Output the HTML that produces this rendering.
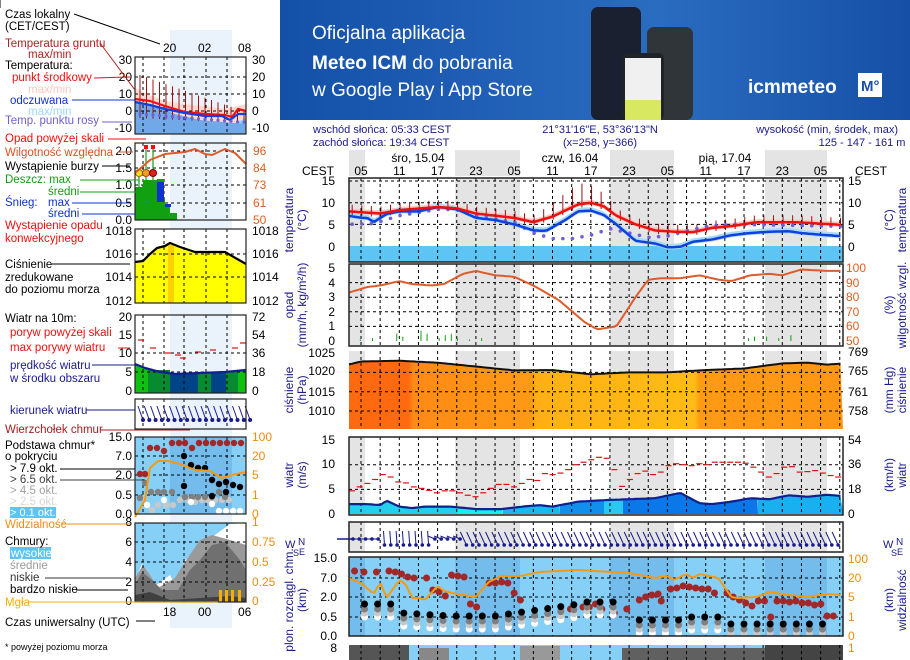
<!DOCTYPE html>
<html><head><meta charset="utf-8"><style>
html,body{margin:0;padding:0;background:#fff;}
svg{display:block;font-family:"Liberation Sans",sans-serif;}
</style></head><body>
<svg id="s" width="910" height="660" viewBox="0 0 910 660" xmlns="http://www.w3.org/2000/svg">
<defs>
<linearGradient id="bn" x1="0" y1="0" x2="1" y2="0"><stop offset="0" stop-color="#1450a8"/><stop offset="0.6" stop-color="#2a6cc0"/><stop offset="1" stop-color="#1650a6"/></linearGradient>
<linearGradient id="pg" x1="0" y1="0" x2="1" y2="0">
<stop offset="0" stop-color="#ff6a10"/><stop offset="0.12" stop-color="#ff6a10"/><stop offset="0.13" stop-color="#ff8a14"/><stop offset="0.37" stop-color="#ff9a14"/><stop offset="0.38" stop-color="#ffb014"/><stop offset="0.7" stop-color="#ffbc14"/><stop offset="0.71" stop-color="#ff9a14"/><stop offset="1" stop-color="#ff9614"/></linearGradient>
</defs>
<rect x="280" y="0" width="630" height="120" fill="url(#bn)"/>
<text x="312" y="39" font-size="19" fill="#fff">Oficjalna aplikacja</text>
<text x="312" y="69" font-size="19" fill="#fff"><tspan font-weight="bold">Meteo ICM</tspan> do pobrania</text>
<text x="312" y="96" font-size="19" fill="#fff">w Google Play i App Store</text>
<rect x="591" y="7" width="50" height="113" rx="7" fill="#1a2030"/>
<rect x="647" y="27" width="46" height="93" rx="7" fill="#30353a"/>
<rect x="622" y="53" width="42" height="67" rx="6" fill="#202428"/>
<rect x="625" y="58" width="36" height="62" fill="#f0f0f0"/>
<rect x="625" y="100" width="36" height="20" fill="#d8e860"/>
<text x="748" y="93" font-size="19" font-weight="bold" fill="#fff">icmmeteo</text>
<rect x="858" y="73" width="24" height="24" fill="#fff"/>
<text x="861" y="91" font-size="15" font-weight="bold" fill="#1a50a8">M°</text>
<g id="g"></g>
</svg>
<script>
(function(){
var S=document.getElementById('g'),NS='http://www.w3.org/2000/svg';
function el(t,a,txt){var e=document.createElementNS(NS,t);for(var k in a)e.setAttribute(k,a[k]);if(txt!=null)e.textContent=txt;S.appendChild(e);return e;}
function T(x,y,s,c,o){o=o||{};var a={x:x,y:y,'font-size':o.fs||11,fill:c||'#000'};if(o.a)a['text-anchor']=o.a;if(o.tr)a.transform=o.tr;return el('text',a,s);}
function L(x1,y1,x2,y2,c,w,d){var a={x1:x1,y1:y1,x2:x2,y2:y2,stroke:c,'stroke-width':w||1};if(d)a['stroke-dasharray']=d;return el('line',a);}
function R(x,y,w,h,c,o){var a={x:x,y:y,width:w,height:h,fill:c};if(o){a.stroke=o;}return el('rect',a);}
function PL(pts,c,w,fill){return el('polyline',{points:pts.map(function(p){return p[0].toFixed(1)+','+p[1].toFixed(1)}).join(' '),stroke:c,'stroke-width':w||1,fill:fill||'none','stroke-linejoin':'round'});}
function itp(d,h){for(var i=0;i<d.length-1;i++){if(h<=d[i+1][0]){var t=(h-d[i][0])/(d[i+1][0]-d[i][0]);return d[i][1]+t*(d[i+1][1]-d[i][1]);}}return d[d.length-1][1];}
var X0=349,X1=843;function X(h){return 361+h*6.383;}var HMIN=(X0-361)/6.383,HMAX=(X1-361)/6.383;
function series(d,yf,step){var p=[];for(var h=HMIN;h<=HMAX+0.01;h+=step||0.5)p.push([X(h),yf(itp(d,h))]);return p;}
var NAVY='#1a1a8c';
var nights=[[349,365],[455,520],[610,674],[765,827]];
function panel(y0,y1,bg,nightc){R(X0,y0,X1-X0,y1-y0,bg);nights.forEach(function(n){R(n[0],y0,n[1]-n[0],y1-y0,nightc);});}
function vgrid(y0,y1){for(var k=-1;k<26;k++){var x=361+k*19.15;if(x>X0&&x<X1)L(x,y0,x,y1,'#000',1,'3,3');}}
function frame(y0,y1){el('rect',{x:X0,y:y0,width:X1-X0,height:y1-y0,fill:'none',stroke:'#222','stroke-width':1.5});}
T(313,133,'wschód słońca: 05:33 CEST',NAVY);T(313,146,'zachód słońca: 19:34 CEST',NAVY);
T(600,133,'21°31\'16"E, 53°36\'13"N',NAVY,{a:'middle'});T(600,146,'(x=258,  y=366)',NAVY,{a:'middle'});
T(898,133,'wysokość (min, środek, max)',NAVY,{a:'end'});T(862,146,'125 - 147 - 161 m',NAVY,{a:'middle'});
nights.forEach(function(n){R(n[0],150,n[1]-n[0],26,'#e4e4e4');});
T(418,162,'śro, 15.04','#000',{a:'middle',fs:12});T(570,162,'czw, 16.04','#000',{a:'middle',fs:12});T(725,162,'pią, 17.04','#000',{a:'middle',fs:12});
['05','11','17','23','05','11','17','23','05','11','17','23','05'].forEach(function(s,i){T(X(i*6),175,s,'#000',{a:'middle',fs:12});});
T(302,175,'CEST','#000',{fs:12});T(855,175,'CEST','#000',{fs:12});
var ty=function(t){return 246-4.33*t;};
panel(178,262,'#fff','#e4e4e4');R(X0,246,X1-X0,16,'#5ec4f4');
var red=[[-2,8],[0,7.8],[3,7.5],[6,8.3],[12,9],[15,8.7],[18,7.5],[24,6.5],[27,5.5],[30,6.8],[34,9.6],[36,10],[38,9.2],[40,7],[43,5],[46,3.6],[49,3.3],[52,3.2],[55,4.2],[58,4.6],[62,5.5],[68,5.5],[74,5],[78,4.7]];
var blu=[[-2,7],[0,6.5],[1,6.5],[2,5.5],[4,7.4],[6,8],[9,8],[12,9],[15,8.5],[18,6.5],[21,6],[24,5],[27,3.6],[29,3.5],[32,6],[34,8],[36,8.2],[38,7.2],[40,5],[43,1.2],[46,0.6],[48,-0.3],[50,-0.2],[52,1],[55,1.5],[58,2.5],[61,3],[64,3.3],[67,3.4],[69,3],[72,2.6],[75,2.3],[78,2.5]];
var dew=[[-2,5],[2,5.2],[6,7],[12,8.5],[15,8.4],[18,7],[24,5.5],[27,3],[30,1.7],[33,1.7],[36,2.5],[39,4],[42,3],[45,2],[48,2.3],[51,3.5],[54,4.5],[58,5],[78,4.5]];
var pb=series(red,function(v){return ty(v+0.7)}),pb2=series(red,function(v){return ty(v-0.5)}).reverse();PL(pb.concat(pb2),'none',0,'#ffc8c0');
var bb=series(blu,function(v){return ty(v+0.8)}),bb2=series(blu,function(v){return ty(v-0.5)}).reverse();PL(bb.concat(bb2),'none',0,'#a8dcf8');
for(var h=HMIN+0.5;h<HMAX;h+=1.5){var v=itp(red,h);var tp=v+1+((h>26&&h<40)?Math.max(0,4-Math.abs(h-34)*0.5):0.6);L(X(h),ty(tp),X(h),ty(v-0.8),'#a01010',1);}
vgrid(178,262);[5,10,15].forEach(function(v){L(X0,ty(v),X1,ty(v),'#000',1,'3,3');});
for(var h=HMIN+0.5;h<HMAX;h+=1.5){el('circle',{cx:X(h),cy:ty(itp(dew,h)),r:1.8,fill:'#7060d8'});}
PL(series(blu,ty),'#1040e0',2.5);PL(series(red,ty),'#ee1010',2.5);frame(178,262);
[[15,181],[10,203],[5,225],[0,247]].forEach(function(a){T(335,a[1]+4,a[0],'#000',{a:'end',fs:12});T(848,a[1]+4,a[0],'#000',{fs:12});});
var py=function(v){return 341-14.6*v;};
panel(264,346,'#fff','#e4e4e4');vgrid(264,346);[1,2,3,4].forEach(function(v){L(X0,py(v),X1,py(v),'#000',1,'3,3');});
[[2,0.1],[4,0.2],[8,0.5],[9,0.3],[12,0.7],[13,0.5],[15,0.2],[16,0.4],[17,0.5],[18,0.2],[20,0.1],[22,0.2],[66,0.2],[67,0.3],[69,0.3],[71,0.2],[73,0.4]].forEach(function(b){var x=X(b[0]*0.95-2);L(x,py(b[1]),x,341,'#10a010',1);});
var rh=[[-2,83],[1,87],[3,88],[6,91],[8,89],[11,88],[13,89],[16,96],[18,98],[21,95],[24,94],[27,88],[31,78],[35,63],[37,58],[40,60],[43,80],[45,92],[47,93],[50,93],[53,95],[56,92],[58,91],[61,95],[64,96],[66,95],[69,99],[73,98],[77,98],[79,96]];
PL(series(rh,function(v){return 341-(v-50)*1.46}),'#e05a2a',2);frame(264,346);
[[5,268],[4,283],[3,297],[2,312],[1,326],[0,341]].forEach(function(a){T(335,a[1]+4,a[0],'#000',{a:'end',fs:12});});
[[100,268],[90,283],[80,297],[70,312],[60,326],[50,341]].forEach(function(a){T(846,a[1]+4,a[0],'#e06020',{fs:12});});
var pry=function(v){return 353+(1025-v)*3.87;};
R(X0,351,X1-X0,78,'#fff');nights.forEach(function(n){R(n[0],351,n[1]-n[0],78,'#e4e4e4');});
var pr=[[-2,1022],[0,1022.8],[6,1023],[12,1022.5],[18,1021.5],[24,1020.5],[30,1020.6],[36,1019.5],[42,1020],[48,1020],[54,1020.6],[60,1021],[66,1022.3],[70,1022.5],[73,1022],[78,1022.6]];
var pp=series(pr,pry);PL(pp.concat([[X1,429],[X0,429]]),'none',0,'url(#pg)');
vgrid(351,429);[1020,1015,1010].forEach(function(v){L(X0,pry(v),X1,pry(v),'#000',1,'3,3');});
PL(pp,'#111',2);
[[1025,353],[1020,371],[1015,392],[1010,411]].forEach(function(a){T(335,a[1]+4,a[0],'#000',{a:'end',fs:12});});
[[769,352],[765,371],[761,392],[758,411]].forEach(function(a){T(848,a[1]+4,a[0],'#000',{fs:12});});
var wy=function(v){return 514-4.93*v;};
panel(437,515,'#fff','#e4e4e4');
var ws=[[-2,2],[1,2],[3,1.8],[4,2.7],[6,1.5],[8,1.2],[10,1.5],[14,1.5],[18,1],[22,1],[26,1.6],[28,1.8],[30,1.5],[34,2.5],[38,2.8],[42,3],[46,3.2],[49,4],[50,4.3],[53,2.2],[55,2],[58,2.5],[61,3.2],[64,3],[67,3.8],[70,3.5],[73,3.9],[76,3.6],[79,3.5]];
var wsp=series(ws,wy);
var bx=[[349,457,'#22d0ee'],[457,503,'#10f0f0'],[503,560,'#18b8f0'],[560,604,'#1090ec'],[604,623,'#28c8f0'],[623,758,'#0a78e8'],[758,843,'#18b0f0']];
bx.forEach(function(b){var q=wsp.filter(function(p){return p[0]>=b[0]-1&&p[0]<=b[1]+1});if(!q.length)return;var pts=q.concat([[b[1],514],[b[0],514]]);pts[0]=[b[0],pts[0][1]];PL(pts,'none',0,b[2]);});
vgrid(437,515);[5,10].forEach(function(v){L(X0,wy(v),X1,wy(v),'#000',1,'3,3');});
PL(wsp,'#10208c',2.2);
var gust=[4.7,5.5,6.2,7,8,7.5,6.5,6.3,5.5,5.2,4.8,4.3,4.7,4.7,4.3,3.8,3.5,4.3,5.2,6,6,5.5,6.2,7,6.8,8.2,8,8.3,9,10,10.5,11,11.5,11.3,9,5.6,7,8.2,8.7,8,8.5,9.8,10.2,10,9.8,10.2,10,10.5,10.5,10.5,10.5,10.3,9.5,8.5,7.5,8.2,9.5,9.6,8.5,8.6,8.8,8.3,7.8,7.5];
gust.forEach(function(g,i){var x=X0+i*(X1-X0)/gust.length;L(x,wy(g),x+6,wy(g),'#e01010',1.2);});
frame(437,515);
[[15,440],[10,464],[5,489],[0,514]].forEach(function(a){T(335,a[1]+4,a[0],'#000',{a:'end',fs:12});});
[[54,440],[36,464],[18,489],[0,514]].forEach(function(a){T(848,a[1]+4,a[0],'#000',{fs:12});});
R(X0,522,X1-X0,30,'#fff');nights.forEach(function(n){R(n[0],522,n[1]-n[0],30,'#e4e4e4');});vgrid(522,552);
for(var i=0;i<78;i++){var x=X0+i*6.3;var h=(x-361)/6.383;var dx,dy,oy;if(h<3){dx=-8;dy=0;oy=0;}else if(h<10){dx=-1;dy=-14;oy=6;}else if(h<15){dx=-7;dy=-3;oy=0;}else{dx=-6;dy=-13;oy=6;}var b0=x+4,b1=539+oy;L(b0,b1,b0+dx,b1+dy,NAVY,1);el('circle',{cx:b0,cy:b1,r:1.8,fill:NAVY});}
L(X0-12,539,X0+5,539,NAVY,1.5);
frame(522,552);
panel(557,636,'#86d0f8','#74bcec');vgrid(557,636);[578,597,617].forEach(function(y){L(X0,y,X1,y,'#000',1,'3,3');});
function dots(arr,col,r){arr.forEach(function(p){var x=X(p[0]);if(x<X0+3||x>X1-3)return;el('circle',{cx:x,cy:p[1],r:r||3.5,fill:col});});}
var tr=[[-1,571],[0.5,571],[2,572],[4,572],[6,571],[7,572],[8,574],[9,577],[10,578],[12,578],[13,590],[14,592],[15,596],[16,575],[17,576],[18,577],[19,604],[20,607],[22,583],[23,583],[24,582],[25,583],[26,593],[27,600],[35,609],[37,607],[38,607],[39,604],[40,609],[42,613],[44,609],[46,600],[47,597],[48,595],[49,594],[49.5,601],[51,589],[52,588],[53,586],[54,587],[55,588],[56,589],[57,589],[58,593],[60,593],[61,597],[62,600],[63,603],[64,606],[65,601],[66,601],[67,617],[68,601],[69,601],[70,602],[71,601],[72,603],[73,603],[74,605],[75,604],[76,616],[77,616]];
tr=tr.map(function(p){return [p[0]*(75.5/77)-1.5,p[1]];});
dots(tr,'#a02828');
var blk=[],gr=[],wh=[];
for(var h=-1.5;h<74;h+=2.05){var base;if(h<6)base=604;else if(h<22)base=616-(h<14?(14-h)*0.4:0);else if(h<34)base=615-(h-22)*0.9;else if(h<40)base=602;else if(h<42)base=999;else if(h<50)base=620;else if(h<56)base=617;else base=624;if(base>900)continue;blk.push([h,base]);gr.push([h,base+5]);gr.push([h,base+9]);wh.push([h,base+13]);}
dots(wh,'#fff');dots(gr.filter(function(_,i){return i%2}),'#c8c8c8');dots(gr.filter(function(_,i){return !(i%2)}),'#808080');dots(blk,'#000');
var vis=[[-2,578],[0,583],[2,594],[3,582],[4,598],[6,580],[7,584],[8,598],[9,598],[10,600],[12,586],[13,591],[15,594],[17,596],[18,597],[20,582],[22,576],[25,576],[28,572],[34,570],[42,573],[46,578],[48,576],[49,580],[51,574],[52,578],[53,574],[56,578],[58,597],[59,598],[62,597],[64,592],[67,595],[70,597],[73,594],[76,595],[78,592]];
PL(series(vis,function(v){return v}),'#f59a10',2);
frame(557,636);
[['15.0',558],['7.0',578],['2.0',597],['0.5',617],['0.0',636]].forEach(function(a){T(337,a[1]+4,a[0],'#000',{a:'end',fs:12});});
[['100',559],['20',578],['5',597],['1',617],['0',636]].forEach(function(a){T(848,a[1]+4,a[0],'#f08c10',{fs:12});});
R(X0,645,X1-X0,15,'#86d0f8');R(X0,645,60,15,'#555');R(X0+70,648,30,12,'#888');R(520,646,40,14,'#999');R(622,648,220,12,'#606060');R(765,645,78,15,'#444');vgrid(645,660);
T(337,652,'8','#000',{a:'end',fs:12});T(848,652,'1','#f08c10',{fs:12});
function vt(x,y,s,c){T(x,y,s,c||NAVY,{a:'middle',tr:'rotate(-90 '+x+' '+y+')',fs:12});}
vt(293,220,'temperatura');vt(306,220,'(°C)');vt(893,220,'(°C)');vt(906,220,'temperatura');
vt(293,305,'opad');vt(306,305,'(mm/h, kg/m²/h)');vt(893,305,'(%)');vt(906,305,'wilgotność wzgl.');
vt(293,390,'ciśnienie');vt(306,390,'(hPa)');vt(893,390,'(mm Hg)');vt(906,390,'ciśnienie');
vt(293,475,'wiatr');vt(306,475,'(m/s)');vt(893,475,'(km/h)');vt(906,475,'wiatr');
vt(293,600,'plon. rozciągl. chm.');vt(306,600,'(km)');vt(893,600,'(km)');vt(906,600,'widzialność');
T(285,548,'W',NAVY,{fs:11});T(293,556,'S',NAVY,{fs:9});T(298,545,'N',NAVY,{fs:10});T(299,555,'E',NAVY,{fs:9});
T(883,548,'W',NAVY,{fs:11});T(891,556,'S',NAVY,{fs:9});T(896,545,'N',NAVY,{fs:10});T(897,555,'E',NAVY,{fs:9});
// LEFT
var LX0=135,LX1=246;
R(170,30,62,598,'#eaf3fc');
function lpanel(y0,y1,bg){R(LX0,y0,LX1-LX0,y1-y0,bg);}
function lgrid(y0,y1,ys){[143,164,184,206,227].forEach(function(x){L(x,y0,x,y1,'#000',1,'3,3');});(ys||[]).forEach(function(y){L(LX0,y,LX1,y,'#000',1,'3,3');});}
function lframe(y0,y1){el('rect',{x:LX0,y:y0,width:LX1-LX0,height:y1-y0,fill:'none',stroke:'#222','stroke-width':1.2});}
T(163,52,'20','#000',{fs:12});T(198,52,'02','#000',{fs:12});T(238,52,'08','#000',{fs:12});
lpanel(57,134,'#fff');R(170,57,62,77,'#eaf3fc');
PL([[135,88],[150,95],[165,101],[185,104],[205,106],[225,109],[246,104],[246,134],[135,134]],'none',0,'#ffd8d0');
PL([[135,112],[160,110],[180,116],[200,122],[230,126],[246,118],[246,134],[135,134]],'none',0,'#88d0f8');
PL([[135,103],[160,107],[175,114],[200,120],[246,124],[246,134],[135,134]],'none',0,'#70a8e8');
lgrid(57,134,[77,94,111]);
for(var x=140;x<246;x+=6.5){L(x,75+(x-140)*0.35,x,118+(x-140)*0.05,'#a01010',1);}
PL([[135,99],[150,101],[165,106],[185,112],[205,114],[225,115],[232,117],[238,109],[246,111]],'#ee1010',2.2);
PL([[135,102],[150,105],[165,109],[185,113],[205,116],[222,116],[230,120],[238,114],[246,114]],'#1040e0',2.2);
for(var x=140;x<246;x+=6.5)el('circle',{cx:x,cy:114+(x-140)*0.08,r:1.6,fill:'#7060d8'});
lframe(57,134);
lpanel(143,220,'#fff');R(170,143,62,77,'#eaf3fc');lgrid(143,220,[151,168,185,203]);
R(135,187,22,33,'#10a010');R(143,180,14,40,'#10a010');R(157,179,7,41,'#10a010');R(157,198,8,22,'#10a010');R(164,205,6,15,'#10a010');R(165,213,12,7,'#10a010');
R(157,182,7,20,'#1030d0');R(165,204,6,3,'#1030d0');
L(139,170,139,187,'#10a010',1.2);L(146,148,146,180,'#10a010',1.2);L(153,148,153,180,'#10a010',1.2);
R(144,145,4,4,'#ee1010');R(151,145,4,4,'#ee1010');
el('circle',{cx:139,cy:173,r:3.5,fill:'#f0e020',stroke:'#a07000'});el('circle',{cx:146,cy:173,r:3.5,fill:'#f0a020',stroke:'#a05000'});el('circle',{cx:153,cy:173,r:3.5,fill:'#e02020',stroke:'#800000'});
PL([[135,173],[142,167],[150,160],[165,154],[185,152],[195,149],[205,154],[212,155],[225,149],[235,153],[246,164]],'#e05a2a',2);
lframe(143,220);
lpanel(229,303,'#fff');
PL([[135,262],[143,261],[150,254],[157,248],[165,246],[170,243],[180,247],[195,252],[225,252],[246,264],[246,303],[135,303]],'none',0,'#ffff00');R(168,245,6,58,'#ffd000');
lgrid(229,303,[254,277]);
PL([[135,262],[143,261],[150,254],[157,248],[165,246],[170,243],[180,247],[195,252],[225,252],[246,264]],'#000',2.2);
lframe(229,303);
lpanel(315,393,'#fff');R(170,315,62,78,'#eaf3fc');
PL([[135,364],[145,368],[160,372],[175,374],[200,373],[225,372],[246,370],[246,393],[135,393]],'none',0,'#10c010');
R(148,370,22,23,'#088a30');R(170,374,28,19,'#004488');R(198,372,13,21,'#088a30');R(211,373,15,20,'#004488');R(226,372,12,21,'#088a30');
lgrid(315,393,[353,372]);
PL([[135,364],[145,368],[160,372],[175,374],[200,373],[225,372],[246,370]],'#10208c',2.2);
[[138,340],[150,348],[165,353],[175,355],[180,358],[195,352],[210,350],[232,348],[240,343]].forEach(function(p){L(p[0],p[1],p[0]+6,p[1],'#e01010',1.2);});
lframe(315,393);
lpanel(399,429,'#fff');R(170,399,62,30,'#eaf3fc');lgrid(399,429);
for(var x=140;x<248;x+=6.3){L(x+3,420,x-2,406,NAVY,1);el('circle',{cx:x+3,cy:420,r:2,fill:NAVY});}
lframe(399,429);
lpanel(437,514,'#86d0f8');R(170,437,62,77,'#74bcec');lgrid(437,514,[456,475,495]);
var ld=function(a,c){a.forEach(function(p){el('circle',{cx:p[0],cy:p[1],r:3.2,fill:c});});};
ld([[140,474],[145,474],[150,448],[157,448],[164,451],[172,443],[179,443],[185,443],[192,448],[199,443],[206,443],[213,443],[220,443],[227,443],[234,443],[241,443]],'#a02828');
ld([[144,498],[152,510],[158,505],[166,505],[173,505],[180,500],[188,500],[195,502],[202,500],[208,500],[215,500],[222,500],[229,500]],'#c8c8c8');
ld([[140,498],[145,483],[151,492],[158,492],[164,492],[172,492],[185,497],[192,497],[198,497],[205,497],[212,497],[219,492],[225,497]],'#808080');
ld([[184,456],[191,465],[198,468],[205,468],[212,480],[219,484],[226,482],[233,485],[240,487],[184,486],[212,496],[226,492]],'#000');
ld([[147,505],[164,500],[191,502],[212,504],[219,511],[226,511],[233,511],[240,511]],'#fff');
PL([[135,517],[145,500],[150,468],[158,461],[168,461],[180,464],[195,470],[210,471],[222,478],[232,475],[246,472]],'#f59a10',2);
lframe(437,514);
lpanel(523,602,'#86d0f8');
PL([[135,580],[142,564],[148,572],[155,586],[170,575],[175,585],[185,560],[195,555],[205,545],[215,535],[230,524],[246,523],[246,602],[135,602]],'none',0,'#ffffff');
PL([[135,578],[143,565],[150,575],[158,588],[175,578],[185,562],[200,540],[212,535],[230,540],[246,545],[246,602],[135,602]],'none',0,'#9a9a9a');
PL([[135,585],[142,572],[152,580],[162,590],[178,590],[190,570],[200,560],[212,545],[225,542],[240,560],[246,570],[246,602],[135,602]],'none',0,'#707070');
PL([[135,595],[150,592],[170,600],[200,598],[230,596],[246,598],[246,602],[135,602]],'none',0,'#404040');
lgrid(523,602,[542,562,582]);
[219,225,231,238].forEach(function(x){R(x,590,3,12,'#f8b000');});
lframe(523,602);
function ln(arr){arr.forEach(function(a){T(132,a[1]+4,a[0],'#000',{a:'end',fs:12});T(a[2]||252,a[1]+4,a[3]||a[0],a[4]||'#000',{fs:12});});}
ln([['30',60],['20',77],['10',94],['0',111],['-10',128]]);
ln([['2.0',151,253,'96','#e06020'],['1.5',168,253,'84','#e06020'],['1.0',185,253,'73','#e06020'],['0.5',203,253,'61','#e06020'],['0.0',220,253,'50','#e06020']]);
ln([['1018',231],['1016',254],['1014',277],['1012',301]]);
ln([['20',317,252,'72'],['15',335,252,'54'],['10',353,252,'36'],['5',372,252,'18'],['0',391,252,'0']]);
ln([['15.0',437,252,'100','#f08c10'],['7.0',456,252,'20','#f08c10'],['2.0',475,252,'5','#f08c10'],['0.5',495,252,'1','#f08c10'],['0.0',514,252,'0','#f08c10']]);
ln([['8',522,252,'1','#f08c10'],['6',542,252,'0.75','#f08c10'],['4',562,252,'0.5','#f08c10'],['2',582,252,'0.25','#f08c10'],['0',601,252,'0','#f08c10']]);
T(163,616,'18','#000',{fs:12});T(198,616,'00','#000',{fs:12});T(238,616,'06','#000',{fs:12});
[[74,14,160,44,'#000'],[100,43,135,90,'#b02020'],[94,78,130,77,'#ee1010'],[72,100,135,100,'#1030e0'],[102,122,132,122,'#7060d0'],[108,139,146,139,'#ee1010'],[118,152,133,152,'#e05020'],[102,166,130,166,'#000'],[80,180,139,180,'#10a010'],[80,192,146,192,'#10a010'],[72,203,130,203,'#1030d0'],[82,214,135,214,'#1030d0'],[52,264,130,264,'#000'],[118,348,130,348,'#ee1010'],[92,365,135,365,NAVY],[86,410,135,410,NAVY],[100,430,190,430,'#a02020'],[60,469,135,469,'#000'],[60,480,145,480,'#404040'],[62,524,130,524,'#f08c10'],[45,578,128,578,'#333'],[76,590,128,590,'#000'],[28,602,218,602,'#f0b000'],[136,621,155,621,'#000']].forEach(function(a){L(a[0],a[1],a[2],a[3],a[4],1);});
R(10,507,46,11,'#5ec4f4');T(10,516,'> 0.1 okt.','#fff',{fs:11});R(10,547,41,12,'#5ec4f4');
var lt=[['Czas lokalny',5,18,'#000'],['(CET/CEST)',5,30,'#000'],['Temperatura gruntu',5,47,'#b02020'],['max/min',28,58,'#b02020'],['Temperatura:',5,69,'#000'],['punkt środkowy',12,81,'#ee1010'],['max/min',28,93,'#ffc8c0'],['odczuwana',10,104,'#1030e0'],['max/min',28,115,'#a0d8f8'],['Temp. punktu rosy',5,124,'#7060d0'],
['Opad powyżej skali',5,142,'#ee1010'],['Wilgotność względna',5,156,'#e05020'],['Wystąpienie burzy',5,170,'#000'],['Deszcz: max',5,183,'#10a010'],['średni',48,195,'#10a010'],['Śnieg:',5,206,'#1030d0'],['max',48,206,'#1030d0'],['średni',48,217,'#1030d0'],['Wystąpienie opadu',5,229,'#ee1010'],['konwekcyjnego',5,242,'#ee1010'],
['Ciśnienie',5,268,'#000'],['zredukowane',5,281,'#000'],['do poziomu morza',5,293,'#000'],['Wiatr na 10m:',5,322,'#000'],['poryw powyżej skali',10,336,'#ee1010'],['max porywy wiatru',10,351,'#ee1010'],['prędkość wiatru',10,369,NAVY],['w środku obszaru',10,382,NAVY],['kierunek wiatru',10,414,NAVY],
['Wierzchołek chmur',5,433,'#a02020'],['Podstawa chmur*',5,449,'#000'],['o pokryciu',5,460,'#000'],['> 7.9 okt.',10,472,'#000'],['> 6.5 okt.',10,483,'#404040'],['> 4.5 okt.',10,494,'#a0a0a0'],['> 2.5 okt.',10,505,'#d8d8d8'],['Widzialność',5,528,'#f08c10'],['Chmury:',5,545,'#000'],['wysokie',11,557,'#fff'],['średnie',10,569,'#999'],['niskie',10,581,'#333'],['bardzo niskie',10,593,'#000'],['Mgła',5,606,'#f0b000'],['Czas uniwersalny (UTC)',5,626,'#000']];
lt.forEach(function(a){T(a[1],a[2],a[0],a[3],{fs:11.5});});
T(5,650,'* powyżej poziomu morza','#000',{fs:9});
L(0,0,0,8,'#000',1);
})();
</script>
</body></html>
